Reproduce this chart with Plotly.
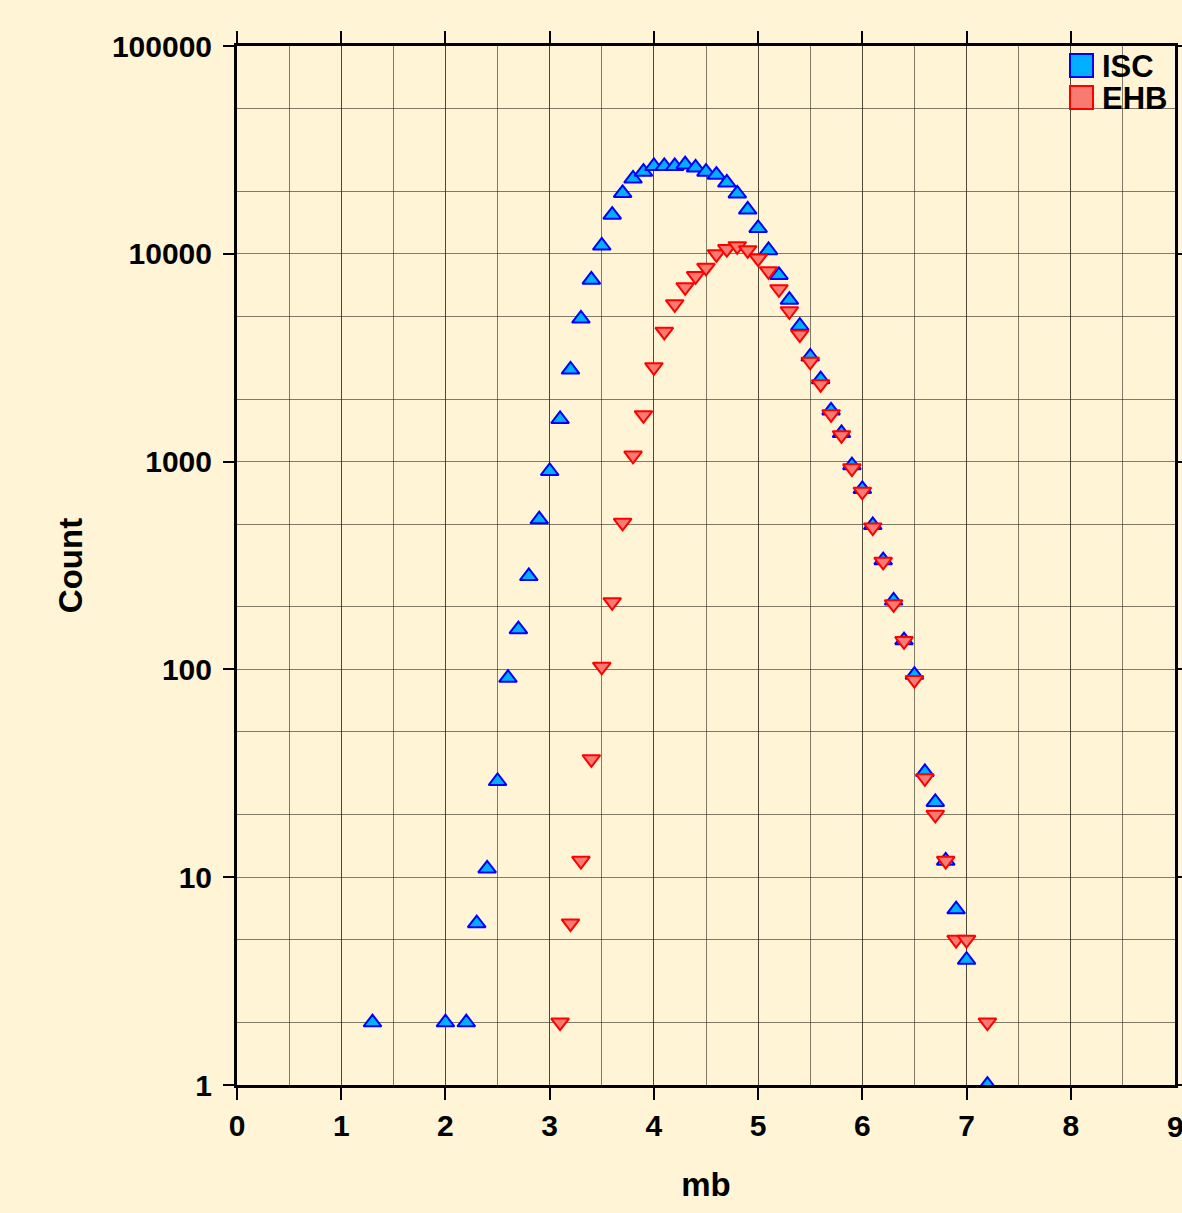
import plotly.graph_objects as go

# ---- data ----
isc_mb = [1.3, 2.0, 2.2, 2.3, 2.4, 2.5, 2.6, 2.7, 2.8, 2.9,
          3.0, 3.1, 3.2, 3.3, 3.4, 3.5, 3.6, 3.7, 3.8, 3.9,
          4.0, 4.1, 4.2, 4.3, 4.4, 4.5, 4.6, 4.7, 4.8, 4.9,
          5.0, 5.1, 5.2, 5.3, 5.4, 5.5, 5.6, 5.7, 5.8, 5.9,
          6.0, 6.1, 6.2, 6.3, 6.4, 6.5, 6.6, 6.7, 6.8, 6.9,
          7.0, 7.2]
isc_count = [2, 2, 2, 6, 11, 29, 91, 156, 281, 527,
             900, 1600, 2770, 4870, 7500, 10950, 15400, 19600, 23000, 24800,
             26400, 26400, 26400, 26900, 26000, 24800, 24000, 22000, 19500, 16300,
             13300, 10400, 7900, 6000, 4500, 3200, 2490, 1760, 1370, 960,
             738, 494, 335, 214, 138, 94, 32, 23, 12, 7,
             4, 1]

ehb_mb = [3.1, 3.2, 3.3, 3.4, 3.5, 3.6, 3.7, 3.8, 3.9,
          4.0, 4.1, 4.2, 4.3, 4.4, 4.5, 4.6, 4.7, 4.8, 4.9,
          5.0, 5.1, 5.2, 5.3, 5.4, 5.5, 5.6, 5.7, 5.8, 5.9,
          6.0, 6.1, 6.2, 6.3, 6.4, 6.5, 6.6, 6.7, 6.8, 6.9,
          7.0, 7.2]
ehb_count = [2, 6, 12, 37, 103, 211, 508, 1070, 1675,
             2850, 4220, 5730, 6920, 7820, 8570, 9970, 10550, 10900, 10420,
             9500, 8260, 6760, 5300, 4100, 3030, 2360, 1693, 1342, 929,
             717, 483, 330, 206, 137, 89, 30, 20, 12, 5,
             5, 2]

series_names = ["ISC", "EHB"]
x_ticks = [0, 1, 2, 3, 4, 5, 6, 7, 8, 9]
y_ticks = [1, 10, 100, 1000, 10000, 100000]
y_tick_text = ["1", "10", "100", "1000", "10000", "100000"]
y_minor = [2, 5, 20, 50, 200, 500, 2000, 5000, 20000, 50000]

BG = "#FFF4D6"
BLUE_FILL = "#00B0FF"
BLUE_LINE = "#0000FF"
RED_FILL = "#F87A70"
RED_LINE = "#FF0000"
GRID = "rgba(45,40,25,0.6)"
FONT = "Liberation Sans"

fig = go.Figure()

fig.add_trace(go.Scatter(
    x=isc_mb, y=isc_count, mode="markers", name=series_names[0], showlegend=False,
    marker=dict(symbol="triangle-up", size=15.5, color=BLUE_FILL,
                line=dict(color=BLUE_LINE, width=2)),
))
fig.add_trace(go.Scatter(
    x=ehb_mb, y=ehb_count, mode="markers", name=series_names[1], showlegend=False,
    marker=dict(symbol="triangle-down", size=15.5, color=RED_FILL,
                line=dict(color=RED_LINE, width=2)),
))

# legend (drawn in paper space at top-right inside the frame)
legend_fills = [BLUE_FILL, RED_FILL]
legend_lines = [BLUE_LINE, RED_LINE]
plot_w = 1182 - 237 - 7
plot_h = 1213 - 46 - 128
sq = 23
for i, (nm, fc, lc) in enumerate(zip(series_names, legend_fills, legend_lines)):
    top = 8 + i * 32
    x0 = (1070 - 237) / plot_w
    x1 = (1070 + sq - 237) / plot_w
    y0 = 1 - (top + sq) / plot_h
    y1 = 1 - top / plot_h
    fig.add_shape(type="rect", xref="paper", yref="paper", x0=x0, x1=x1, y0=y0, y1=y1,
                  fillcolor=fc, line=dict(color=lc, width=2), layer="above")
    fig.add_annotation(xref="paper", yref="paper", x=(1100 - 237) / plot_w,
                       y=1 - (top + sq / 2 + 1) / plot_h, xanchor="left", yanchor="middle",
                       text=nm, showarrow=False,
                       font=dict(family=FONT, size=31, weight="bold", color="black"))

# last x tick label sits on the page edge (partly cut off, as in the original)
fig.add_annotation(xref="x", yref="paper", x=x_ticks[-1], y=0, xanchor="center",
                   yanchor="middle", yshift=-41, text=str(x_ticks[-1]), showarrow=False,
                   font=dict(family=FONT, size=30, weight="bold", color="black"))

fig.update_layout(
    width=1182, height=1213,
    margin=dict(l=237, r=7, t=46, b=128, autoexpand=False),
    paper_bgcolor=BG, plot_bgcolor=BG,
    font=dict(family=FONT, color="black", size=30),
    showlegend=False,
)

fig.update_xaxes(
    range=[0, 9], tickmode="array", tickvals=x_ticks[:-1], automargin=False,
    ticks="outside", ticklen=12, tickwidth=2, tickcolor="black",
    showline=True, linewidth=3, linecolor="black", mirror="allticks",
    showgrid=True, gridcolor=GRID, gridwidth=1,
    zeroline=False,
    tickfont=dict(family=FONT, size=30, weight="bold"),
    minor=dict(dtick=0.5, tick0=0, showgrid=True, gridcolor=GRID, gridwidth=1, ticklen=0),
    title=dict(text="mb", font=dict(family=FONT, size=33, weight="bold"), standoff=32),
)
fig.update_yaxes(
    type="log", range=[0, 5], tickmode="array", tickvals=y_ticks, ticktext=y_tick_text,
    automargin=False, ticklabelstandoff=5,
    ticks="outside", ticklen=11, tickwidth=2, tickcolor="black",
    showline=True, linewidth=3, linecolor="black", mirror="allticks",
    showgrid=True, gridcolor=GRID, gridwidth=1,
    zeroline=False,
    tickfont=dict(family=FONT, size=30, weight="bold"),
    minor=dict(tickmode="array", tickvals=y_minor, showgrid=True, gridcolor=GRID, gridwidth=1, ticklen=0),
    title=dict(text="Count", font=dict(family=FONT, size=33, weight="bold"), standoff=20),
)

fig.write_html("out.html")
